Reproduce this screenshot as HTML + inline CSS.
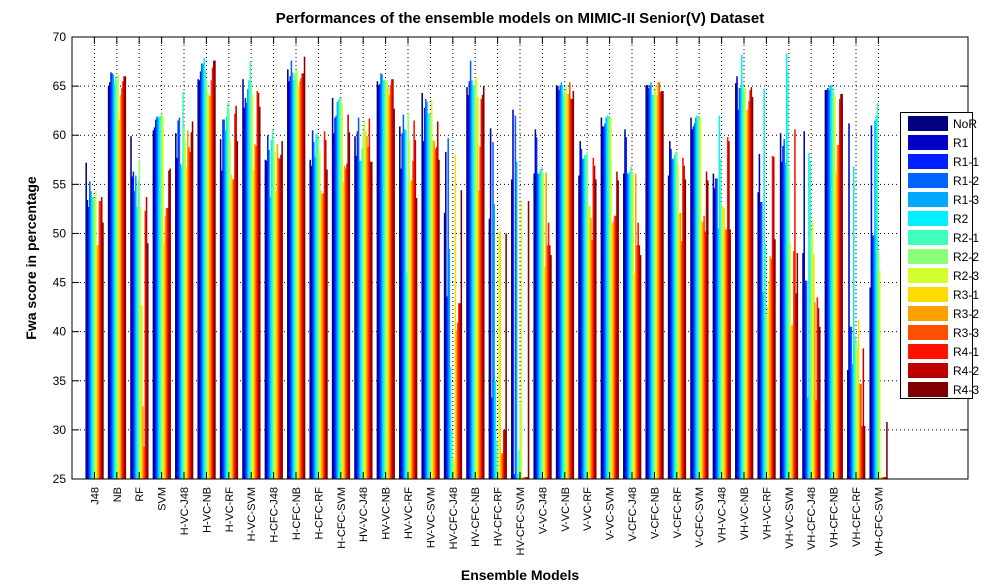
<!DOCTYPE html>
<html><head><meta charset="utf-8"><style>
body{margin:0;background:#fff;}
svg{display:block;font-family:"Liberation Sans",sans-serif;}
</style></head><body>
<svg id="chart" width="997" height="585" viewBox="0 0 997 585">
<rect x="0" y="0" width="997" height="585" fill="#fff"/>
<text x="520" y="23" font-size="15" font-weight="bold" text-anchor="middle">Performances of the ensemble models on MIMIC-II Senior(V) Dataset</text>
<text x="520" y="580" font-size="14" font-weight="bold" text-anchor="middle">Ensemble Models</text>
<text transform="translate(36,258) rotate(-90)" font-size="14" font-weight="bold" text-anchor="middle">Fwa score in percentage</text>
<g id="grid"></g>
<g id="bars"></g>
<rect x="72" y="37" width="896" height="442" fill="none" stroke="#000" stroke-width="1"/>
<g id="axes"></g>
<g id="legend"></g>
</svg>
<script>
const categories = ["J48","NB","RF","SVM","H-VC-J48","H-VC-NB","H-VC-RF","H-VC-SVM","H-CFC-J48","H-CFC-NB","H-CFC-RF","H-CFC-SVM","HV-VC-J48","HV-VC-NB","HV-VC-RF","HV-VC-SVM","HV-CFC-J48","HV-CFC-NB","HV-CFC-RF","HV-CFC-SVM","V-VC-J48","V-VC-NB","V-VC-RF","V-VC-SVM","V-CFC-J48","V-CFC-NB","V-CFC-RF","V-CFC-SVM","VH-VC-J48","VH-VC-NB","VH-VC-RF","VH-VC-SVM","VH-CFC-J48","VH-CFC-NB","VH-CFC-RF","VH-CFC-SVM"];
const seriesNames = ["NoR","R1","R1-1","R1-2","R1-3","R2","R2-1","R2-2","R2-3","R3-1","R3-2","R3-3","R4-1","R4-2","R4-3"];
const yTicks = [25,30,35,40,45,50,55,60,65,70];
// values[category] = 15 series values
const values = [
[57.2,53.4,52.7,55.3,54.3,53.7,53.7,53.5,54.3,48.8,48.8,53.3,53.3,53.7,51.1],
[65.0,65.4,66.4,66.3,66.2,65.3,66.0,65.6,66.2,61.6,64.1,64.8,65.5,66.0,66.0],
[59.9,55.8,56.3,54.3,55.9,52.7,55.4,57.5,52.7,42.7,32.4,28.3,52.3,53.7,49.0],
[60.5,60.8,61.6,61.9,61.8,61.9,62.0,62.2,62.0,49.0,51.8,52.6,52.6,56.4,56.6],
[60.2,57.7,61.5,61.8,57.1,56.8,64.4,60.9,59.5,56.8,60.5,58.8,58.3,60.3,61.4],
[65.7,65.6,66.5,67.3,67.3,67.9,66.6,65.6,64.4,64.1,64.0,65.6,66.9,67.6,67.6],
[59.6,56.4,61.6,61.6,60.5,61.9,63.3,62.7,59.5,56.0,55.5,55.5,62.2,63.0,59.4],
[65.7,62.8,63.8,63.3,64.7,65.6,67.5,65.3,64.1,56.5,59.1,58.9,64.5,64.3,62.9],
[57.5,57.4,60.0,58.5,53.7,59.5,60.6,59.5,58.3,54.3,59.1,57.7,57.6,58.0,59.4],
[66.7,65.5,66.0,67.6,66.4,65.6,66.3,66.6,66.6,64.9,65.5,65.8,66.3,66.3,68.0],
[57.5,56.9,60.5,59.3,57.8,60.1,60.1,59.7,58.5,54.4,54.0,54.1,60.4,59.5,56.5],
[63.8,60.2,61.8,62.0,63.4,63.6,63.8,63.8,63.2,55.2,56.9,56.6,57.1,62.1,60.3],
[59.9,57.9,60.4,61.8,57.4,57.4,58.7,60.5,61.5,60.5,59.9,58.8,61.7,57.3,57.3],
[65.5,65.1,65.2,66.3,66.2,65.6,65.6,65.6,65.6,64.8,64.1,65.1,65.7,65.7,62.7],
[60.9,56.6,60.2,62.1,60.6,60.5,46.0,62.2,59.5,55.4,55.4,57.4,61.5,59.5,53.6],
[64.3,59.4,62.8,63.7,63.4,62.2,62.2,62.2,63.6,59.5,59.4,58.6,58.8,61.4,57.5],
[52.1,58.3,43.6,59.7,48.4,36.4,30.0,27.0,27.0,58.0,40.1,40.9,42.9,42.9,54.4],
[64.9,64.1,65.5,67.6,65.6,65.1,65.1,65.6,65.9,63.9,54.4,58.8,63.7,64.1,65.0],
[51.5,60.7,33.3,59.3,53.0,35.0,28.9,26.0,50.2,50.2,27.6,27.6,30.0,30.0,50.0],
[55.5,62.6,25.5,62.0,57.3,25.5,27.9,32.7,53.4,25.2,25.2,25.2,25.2,25.2,53.3],
[56.1,60.6,59.8,56.1,56.1,56.5,56.8,56.3,56.1,46.6,56.2,48.8,51.1,48.8,47.8],
[65.1,65.0,64.6,65.1,65.4,65.1,64.1,64.6,65.1,64.2,64.2,65.4,63.7,63.7,64.5],
[55.9,59.4,58.6,57.6,57.6,58.0,58.0,58.3,52.8,52.8,51.6,49.3,57.7,56.9,55.5],
[61.8,60.9,60.9,61.2,61.8,62.0,62.0,61.8,61.8,51.0,51.2,51.8,51.8,56.3,55.4],
[56.1,60.6,59.8,56.1,56.1,56.3,56.8,56.3,56.1,45.9,56.1,48.8,51.1,48.8,47.8],
[65.1,65.1,64.8,65.1,65.4,64.1,64.1,64.6,65.1,64.1,65.4,65.4,64.4,64.5,64.5],
[55.9,59.4,58.6,57.6,57.6,58.0,58.3,58.3,57.0,52.1,52.1,49.2,57.7,56.9,55.5],
[61.8,60.6,60.9,61.2,61.8,62.0,62.0,61.8,61.8,51.2,51.2,51.8,50.2,56.3,55.4],
[56.1,54.6,55.6,55.6,50.5,62.0,57.6,52.9,52.8,52.6,50.4,50.4,59.8,59.4,50.4],
[65.3,66.0,62.6,64.8,64.8,68.2,65.2,64.7,64.9,62.6,62.6,63.5,64.6,64.9,63.9],
[54.2,58.1,53.2,53.2,44.0,64.7,48.9,41.6,42.5,45.0,47.7,47.4,57.9,57.8,49.4],
[60.2,57.3,58.9,59.6,57.2,68.3,66.5,56.6,49.0,40.7,40.7,48.2,60.6,43.9,48.0],
[48.0,60.4,45.2,45.2,33.3,58.2,57.4,50.3,51.2,47.9,43.0,33.0,43.5,42.4,40.5],
[64.6,64.6,64.8,64.6,65.1,65.1,64.8,64.4,64.0,56.2,59.0,59.0,63.7,64.2,64.2],
[36.1,61.2,40.5,40.5,36.7,56.8,39.6,39.0,38.4,41.2,34.7,34.7,30.4,38.3,30.4],
[44.5,61.0,49.8,49.8,61.5,62.0,63.3,48.2,46.3,25.2,25.2,25.2,25.2,25.2,30.8]
];
const colors = ["#000080","#0000c8","#0020ff","#0064ff","#00aaff","#00f0ff","#40ffbe","#8cff78","#d2ff30","#ffdc00","#ffa000","#ff5000","#ff1000","#be0000","#800000"];

const NS="http://www.w3.org/2000/svg";
const PL=72, PR=968, PT=37, PB=479, XMAX=40, YMIN=25, YMAX=70;
function xScale(v){return PL+(PR-PL)*v/XMAX;}
function yScale(v){return PB-(PB-PT)*(v-YMIN)/(YMAX-YMIN);}
function mk(tag,attrs,parent){const e=document.createElementNS(NS,tag);for(const k in attrs)e.setAttribute(k,attrs[k]);parent.appendChild(e);return e;}

const grid=document.getElementById('grid'), bars=document.getElementById('bars'), axes=document.getElementById('axes'), legend=document.getElementById('legend');

yTicks.forEach(t=>{
  const y=yScale(t);
  if(t>YMIN&&t<YMAX){
    const g=mk('line',{x1:PL,x2:PR,y1:y,y2:y,stroke:'#000','stroke-width':1,'stroke-dasharray':'1,3'},grid);
    
    
  }
  const tk=mk('line',{x1:PL,x2:PL+7,y1:y,y2:y,stroke:'#000'},axes);
  
  
  const tk2=mk('line',{x1:PR-7,x2:PR,y1:y,y2:y,stroke:'#000'},axes);
  
  
  const lb=mk('text',{x:PL-6,y:y+4,'font-size':12,'text-anchor':'end'},axes);
  lb.textContent=t;
  
  
});

const groupW=(PR-PL)/XMAX*0.8, barW=groupW/seriesNames.length;
categories.forEach((c,i)=>{
  const cx=xScale(i+1);
  const gl=mk('line',{x1:cx,x2:cx,y1:PT,y2:PB,stroke:'#000','stroke-width':1,'stroke-dasharray':'1,3'},grid);
  
  
  const t1=mk('line',{x1:cx,x2:cx,y1:PB,y2:PB-7,stroke:'#000'},axes);
  
  
  const t2=mk('line',{x1:cx,x2:cx,y1:PT,y2:PT+7,stroke:'#000'},axes);
  
  
  const lb=mk('text',{transform:`translate(${cx+4},${PB+8}) rotate(-90)`,'font-size':11,'text-anchor':'end'},axes);
  lb.textContent=c;
  
  
  values[i].forEach((v,s)=>{
    const x0=cx-groupW/2+s*barW;
    const y=yScale(Math.max(v,YMIN));
    const r=mk('rect',{x:x0,y:y,width:barW+0.35,height:PB-y,fill:colors[s]},bars);
    
    
  });
});

const lbox=mk('rect',{x:900.5,y:112.5,width:72,height:286,fill:'#fff',stroke:'#000'},legend);


seriesNames.forEach((n,s)=>{
  const y=116+s*19;
  const sw=mk('rect',{x:908,y:y,width:40,height:15,fill:colors[s]},legend);
  
  
  const tx=mk('text',{x:953,y:y+12,'font-size':12},legend);
  tx.textContent=n;
  
  
});
</script>
</body></html>
